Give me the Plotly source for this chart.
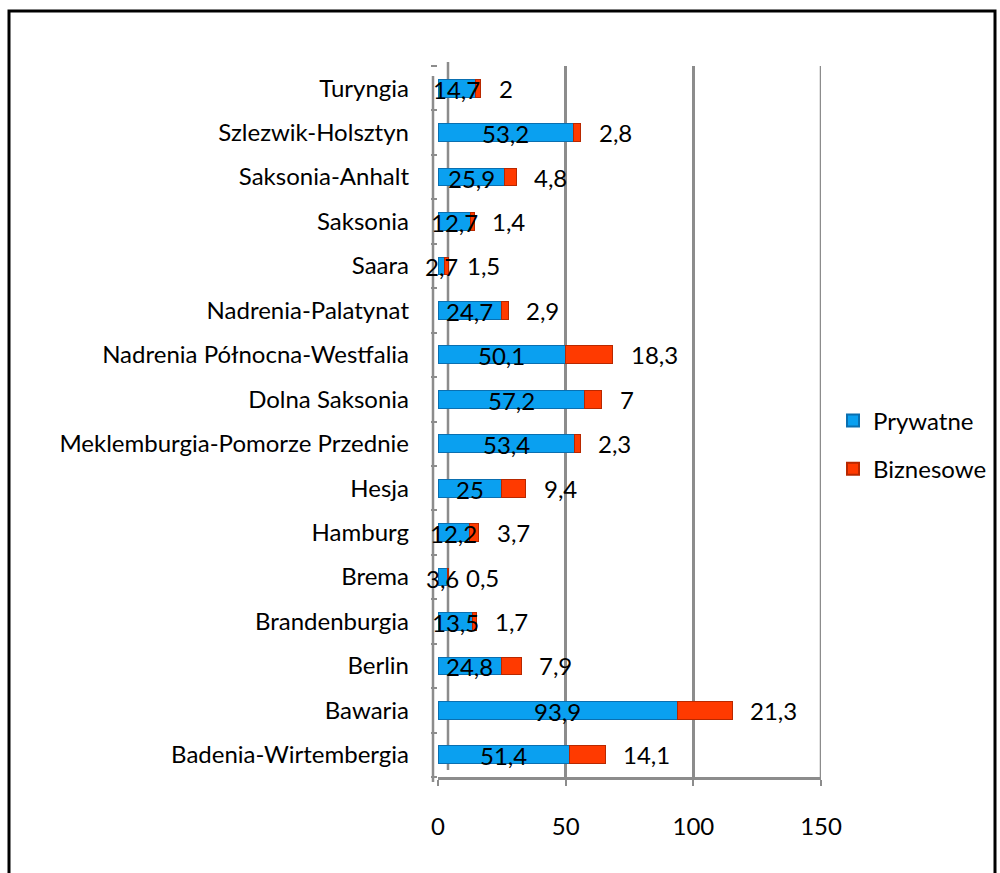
import plotly.graph_objects as go

categories = ["Badenia-Wirtembergia", "Bawaria", "Berlin", "Brandenburgia", "Brema",
              "Hamburg", "Hesja", "Meklemburgia-Pomorze Przednie", "Dolna Saksonia",
              "Nadrenia Północna-Westfalia", "Nadrenia-Palatynat", "Saara", "Saksonia",
              "Saksonia-Anhalt", "Szlezwik-Holsztyn", "Turyngia"]
prywatne = [51.4, 93.9, 24.8, 13.5, 3.6, 12.2, 25, 53.4, 57.2, 50.1, 24.7, 2.7, 12.7, 25.9, 53.2, 14.7]
biznesowe = [14.1, 21.3, 7.9, 1.7, 0.5, 3.7, 9.4, 2.3, 7, 18.3, 2.9, 1.5, 1.4, 4.8, 2.8, 2]
x_ticks = [0, 50, 100, 150]

FONT = "Lato, Carlito, Calibri, sans-serif"
FS = 24
BLUE = "#0aa0f0"
RED = "#ff3a00"
GRID = "#8c8c8c"

W, H = 1000, 873
ML, MR, MT, MB = 438, 179, 66, 96
pw = W - ML - MR
ph = H - MT - MB


def fmt(v):
    return f"{v:g}".replace(".", ",")


def px_to_paper_x(px):
    return (px - ML) / pw


def px_to_paper_y(py):
    return (H - MB - py) / ph


fig = go.Figure()
fig.add_trace(go.Bar(y=categories, x=prywatne, orientation="h", name="Prywatne",
                     marker=dict(color=BLUE, line=dict(color="#0a6fb0", width=1)),
                     legendgroup="a"))
fig.add_trace(go.Bar(y=categories, x=biznesowe, orientation="h", name="Biznesowe",
                     marker=dict(color=RED, line=dict(color="#b82800", width=1)),
                     legendgroup="b"))

annotations = []
for c, p, b in zip(categories, prywatne, biznesowe):
    annotations.append(dict(x=p / 2, y=c, text=fmt(p), showarrow=False, xanchor="center",
                            yshift=-1, font=dict(family=FONT, size=FS, color="black")))
    annotations.append(dict(x=p + b, y=c, text=fmt(b), showarrow=False, xanchor="left",
                            xshift=16, font=dict(family=FONT, size=FS, color="black")))

shapes = [
    # outer frame
    dict(type="rect", xref="paper", yref="paper",
         x0=px_to_paper_x(9), x1=px_to_paper_x(995),
         y0=px_to_paper_y(900), y1=px_to_paper_y(11),
         line=dict(color="black", width=3), layer="below"),
    # front y axis line
    dict(type="line", xref="paper", yref="paper",
         x0=px_to_paper_x(433), x1=px_to_paper_x(433),
         y0=px_to_paper_y(782), y1=px_to_paper_y(76),
         line=dict(color=GRID, width=2.5), layer="below"),
    # back wall line at zero
    dict(type="line", xref="paper", yref="paper",
         x0=px_to_paper_x(448), x1=px_to_paper_x(448),
         y0=px_to_paper_y(770), y1=px_to_paper_y(62),
         line=dict(color=GRID, width=2.5), layer="below"),
    # last gridline at the axis end
    dict(type="line", xref="x", yref="paper",
         x0=x_ticks[-1], x1=x_ticks[-1], y0=0, y1=1,
         line=dict(color=GRID, width=2.5), layer="below"),
]

fig.update_layout(
    width=W, height=H,
    margin=dict(l=ML, r=MR, t=MT, b=MB, autoexpand=False),
    barmode="stack", bargap=0.6,
    plot_bgcolor="white", paper_bgcolor="white",
    font=dict(family=FONT, size=FS, color="black"),
    annotations=annotations, shapes=shapes,
    legend=dict(x=px_to_paper_x(833), y=px_to_paper_y(445), xanchor="left", yanchor="middle",
                traceorder="grouped", tracegroupgap=14, font=dict(size=FS),
                itemsizing="constant"),
    xaxis=dict(range=[0, 150], tickvals=x_ticks, ticktext=[str(t) for t in x_ticks],
               showgrid=True, gridcolor=GRID, gridwidth=2.5, zeroline=False,
               showline=True, linecolor=GRID, linewidth=2.5, automargin=False,
               ticks="outside", ticklen=6, tickcolor=GRID, tickwidth=2,
               ticklabelstandoff=20, tickfont=dict(size=FS)),
    yaxis=dict(type="category", categoryorder="array", categoryarray=categories,
               range=[-0.5, len(categories) - 0.5], automargin=False,
               showgrid=False, zeroline=False, showline=False,
               ticks="outside", tickson="boundaries", ticklen=6, tickcolor=GRID, tickwidth=2,
               ticklabelstandoff=28, tickfont=dict(size=FS)),
)

fig.write_html("out.html", config={"displayModeBar": False},
               post_script="document.body.style.margin='0';")
